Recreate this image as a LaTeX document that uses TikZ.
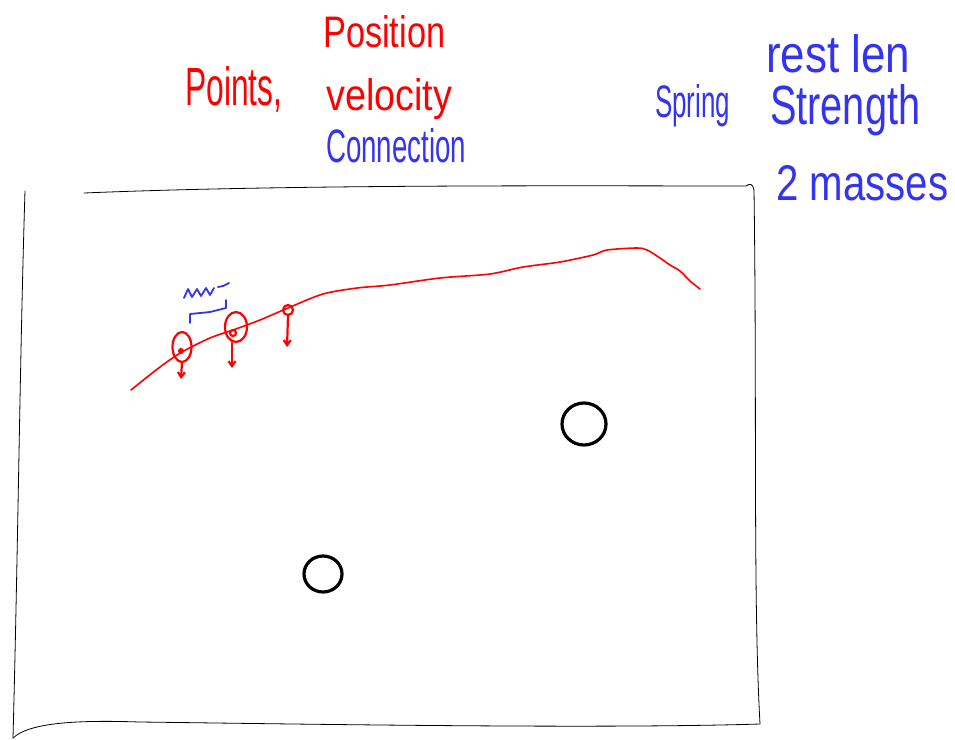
\documentclass[tikz,border=0pt]{standalone}
\usepackage{fontspec}
\setmainfont{Liberation Sans}
\usepackage{graphicx}
\usetikzlibrary{arrows.meta}
\definecolor{penred}{RGB}{255,0,0}
\definecolor{penblue}{RGB}{52,52,240}
\newcommand{\hwtext}[3]{\resizebox{#1pt}{#2pt}{#3}}
\begin{document}
\begin{tikzpicture}[x=1pt,y=-1pt,
  frameline/.style={draw=black, line width=0.8pt, line cap=round, line join=round},
  redline/.style={draw=penred, line width=1.6pt, line cap=round, line join=round},
  redpen/.style={draw=penred, line width=2.2pt, line cap=round, line join=round},
  bluepen/.style={draw=penblue, line width=1.8pt, line cap=round, line join=round},
  mass/.style={draw=black, line width=3.2pt},
  redtext/.style={anchor=base west, inner sep=0pt, text=penred},
  bluetext/.style={anchor=base west, inner sep=0pt, text=penblue},
  downtip/.style={-{Straight Barb[length=5pt,width=7pt]}}]
\useasboundingbox (0,0) rectangle (955,739);
\clip (0,0) rectangle (955,739);
\fill[white] (0,0) rectangle (955,739);

% texts
\node[redtext] (position) at (323,47) {\hwtext{122}{32}{Position}};
\node[redtext] (points) at (185,105) {\hwtext{97}{39}{Points,}};
\node[redtext] (velocity) at (326,110) {\hwtext{126}{32}{velocity}};
\node[bluetext] (connection) at (326,162) {\hwtext{140}{34}{Connection}};
\node[bluetext] (restlen) at (766,72) {\hwtext{144}{38}{rest len}};
\node[bluetext] (spring) at (655,117) {\hwtext{75}{33}{Spring}};
\node[bluetext] (strength) at (770,124) {\hwtext{150}{40}{Strength}};
\node[bluetext] (masses) at (776,200) {\hwtext{172}{35}{2 masses}};

% frame
\draw[frameline] (84,193) .. controls (300,184) and (600,186) .. (746,186)
  .. controls (750,183) and (753,184) .. (754,190);
\draw[frameline] (754,190) .. controls (757,400) and (753,600) .. (760,724);
\draw[frameline] (760,724) .. controls (600,729) and (300,724) .. (140,722)
  .. controls (80,720) and (30,722) .. (13,738);
\draw[frameline] (25,191) .. controls (20,350) and (18,550) .. (13,738);

% red trajectory
\draw[redline] plot[smooth, tension=0.5] coordinates {
  (131,390) (160,367) (182,352) (210,338) (233,330) (260,320) (288,308)
  (323,294) (357,288) (390,285) (440,278) (490,274) (523,267) (560,262)
  (593,255) (607,250) (637,248) (647,250) (657,256) (670,265) (680,271)
  (690,281) (700,289)};

% points with velocity arrows
\draw[redpen] (182,347) ellipse [x radius=9.5, y radius=15];
\fill[penred] (181,351) circle (3);
\draw[redpen, downtip] (182,362) -- (181,379);

\draw[redpen] (236,327) ellipse [x radius=11, y radius=15];
\draw[redpen] (233,333) circle (3);
\draw[redpen, downtip] (232,343) -- (232,368);

\draw[redpen] (288,310) circle (5);
\draw[redpen, downtip] (288,316) -- (287,347);

% blue connection bracket + spring squiggle
\draw[bluepen] (190,323) -- (190,314) -- (210,312) -- (226,308) -- (226,300);
\draw[bluepen] (184,298) -- (188,289) -- (192,297) -- (197,289) -- (201,296)
  -- (206,288) -- (210,295) -- (214,288);
\draw[bluepen] (218,287) -- (223,286) -- (229,283);

% masses
\draw[mass] (584,424) ellipse [x radius=22, y radius=21];
\draw[mass] (323,574) ellipse [x radius=19, y radius=18];
\end{tikzpicture}
\end{document}
